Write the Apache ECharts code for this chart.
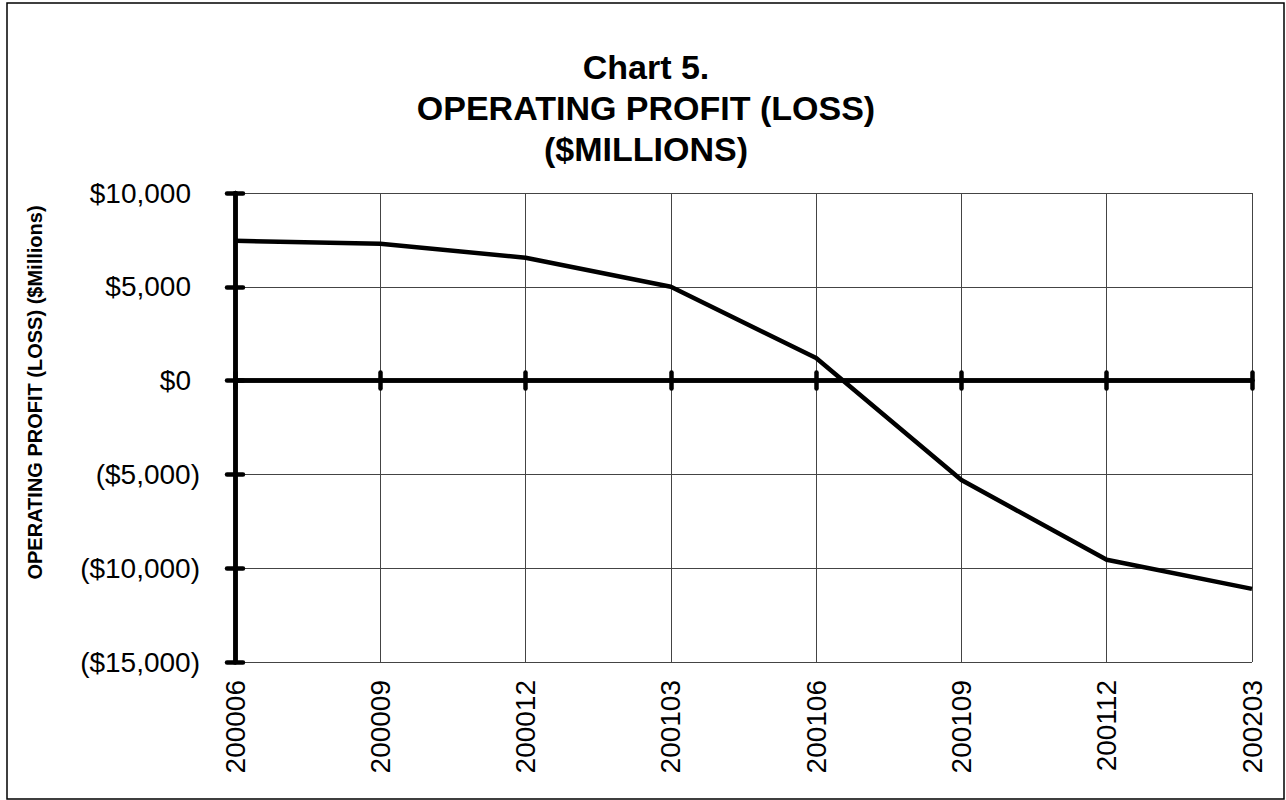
<!DOCTYPE html>
<html>
<head>
<meta charset="utf-8">
<title>Chart 5. Operating Profit (Loss)</title>
<script src="https://cdn.jsdelivr.net/npm/echarts@6/dist/echarts.min.js"></script>
<style>
    html, body { margin: 0; padding: 0; background: #fff; }
    #chart { width: 1286px; height: 800px; }
</style>
</head>
<body>
<div id="chart"></div>
<script>
// quarters (yyyymm)
var quarters = ['200006', '200009', '200012', '200103', '200106', '200109', '200112', '200203'];
// operating profit (loss), $ millions
var operatingProfit = [7450, 7300, 6550, 5000, 1200, -5300, -9550, -11100];
// y axis ticks
var yTicks = [-15000, -10000, -5000, 0, 5000, 10000];

var titleText = 'Chart 5.\nOPERATING PROFIT (LOSS)\n($MILLIONS)';
var yName = 'OPERATING PROFIT (LOSS) ($Millions)';

var FONT = '"Liberation Sans", Arial, sans-serif';

function moneyLabel(v) {
    var s = '$' + Math.abs(v).toLocaleString('en-US');
    if (v < 0) return '(' + s + ')';
    return '{p|' + s + '}'; // keep room for the ')' like Excel does
}

var myChart = echarts.init(document.getElementById('chart'), null, { renderer: 'svg' });

var yMin = yTicks[0];
var yMax = yTicks[yTicks.length - 1];
var yStep = yTicks[1] - yTicks[0];

var thick = { color: '#000', width: 4.5, cap: 'round' };

var option = {
    backgroundColor: '#fff',
    animation: false,
    title: {
        text: titleText,
        left: 646,
        top: 46,
        textAlign: 'center',
        padding: 0,
        textStyle: {
            fontFamily: FONT,
            fontSize: 34,
            fontWeight: 'bold',
            color: '#000',
            lineHeight: 41
        }
    },
    graphic: [{
        type: 'rect',
        silent: true,
        shape: { x: 7, y: 3, width: 1277, height: 796 },
        style: { fill: 'none', stroke: '#000', lineWidth: 1.5 }
    }],
    grid: {
        left: 235,
        right: 34,
        top: 193,
        bottom: 138,
        containLabel: false
    },
    xAxis: [{
        // labels at the bottom + vertical grid lines
        type: 'category',
        position: 'bottom',
        boundaryGap: false,
        data: quarters,
        axisLine: { show: false, onZero: false },
        axisTick: { show: false },
        axisLabel: {
            interval: 0,
            rotate: 90,
            margin: 18,
            color: '#000',
            fontFamily: FONT,
            fontSize: 28
        },
        splitLine: { show: true, lineStyle: { color: '#444', width: 1 } }
    }, {
        // thick zero line, ticks below
        type: 'category',
        position: 'bottom',
        boundaryGap: false,
        data: quarters,
        axisLine: { show: true, onZero: true, onZeroAxisIndex: 0, lineStyle: { color: '#000', width: 4.5 } },
        axisTick: { show: true, interval: 0, inside: false, length: 8, lineStyle: thick },
        axisLabel: { show: false },
        splitLine: { show: false }
    }, {
        // ticks above the zero line
        type: 'category',
        position: 'bottom',
        boundaryGap: false,
        data: quarters,
        axisLine: { show: true, onZero: true, onZeroAxisIndex: 0, lineStyle: { color: '#000', width: 4.5 } },
        axisTick: { show: true, interval: 0, inside: true, length: 8, lineStyle: thick },
        axisLabel: { show: false },
        splitLine: { show: false }
    }],
    yAxis: [{
        type: 'value',
        position: 'left',
        min: yMin,
        max: yMax,
        interval: yStep,
        name: yName,
        nameLocation: 'middle',
        nameGap: 190,
        nameTextStyle: {
            fontFamily: FONT,
            fontSize: 20,
            fontWeight: 'bold',
            color: '#000',
            padding: [0, 0, 0, 70]
        },
        axisLine: { show: true, lineStyle: { color: '#000', width: 4.5 } },
        axisTick: { show: true, inside: false, length: 8, lineStyle: thick },
        axisLabel: {
            margin: 35,
            color: '#000',
            fontFamily: FONT,
            fontSize: 28,
            formatter: moneyLabel,
            rich: {
                p: { fontFamily: FONT, fontSize: 28, color: '#000', padding: [0, 9, 0, 0] }
            }
        },
        splitLine: { show: true, lineStyle: { color: '#444', width: 1 } }
    }, {
        type: 'value',
        position: 'left',
        min: yMin,
        max: yMax,
        interval: yStep,
        axisLine: { show: true, lineStyle: { color: '#000', width: 4.5 } },
        axisTick: { show: true, inside: true, length: 8, lineStyle: thick },
        axisLabel: { show: false },
        splitLine: { show: false }
    }],
    series: [{
        name: 'Operating Profit (Loss)',
        type: 'line',
        xAxisIndex: 0,
        yAxisIndex: 0,
        data: operatingProfit,
        showSymbol: false,
        symbol: 'none',
        z: 5,
        lineStyle: { color: '#000', width: 4.5, join: 'round' }
    }]
};
myChart.setOption(option);
</script>
</body>
</html>
